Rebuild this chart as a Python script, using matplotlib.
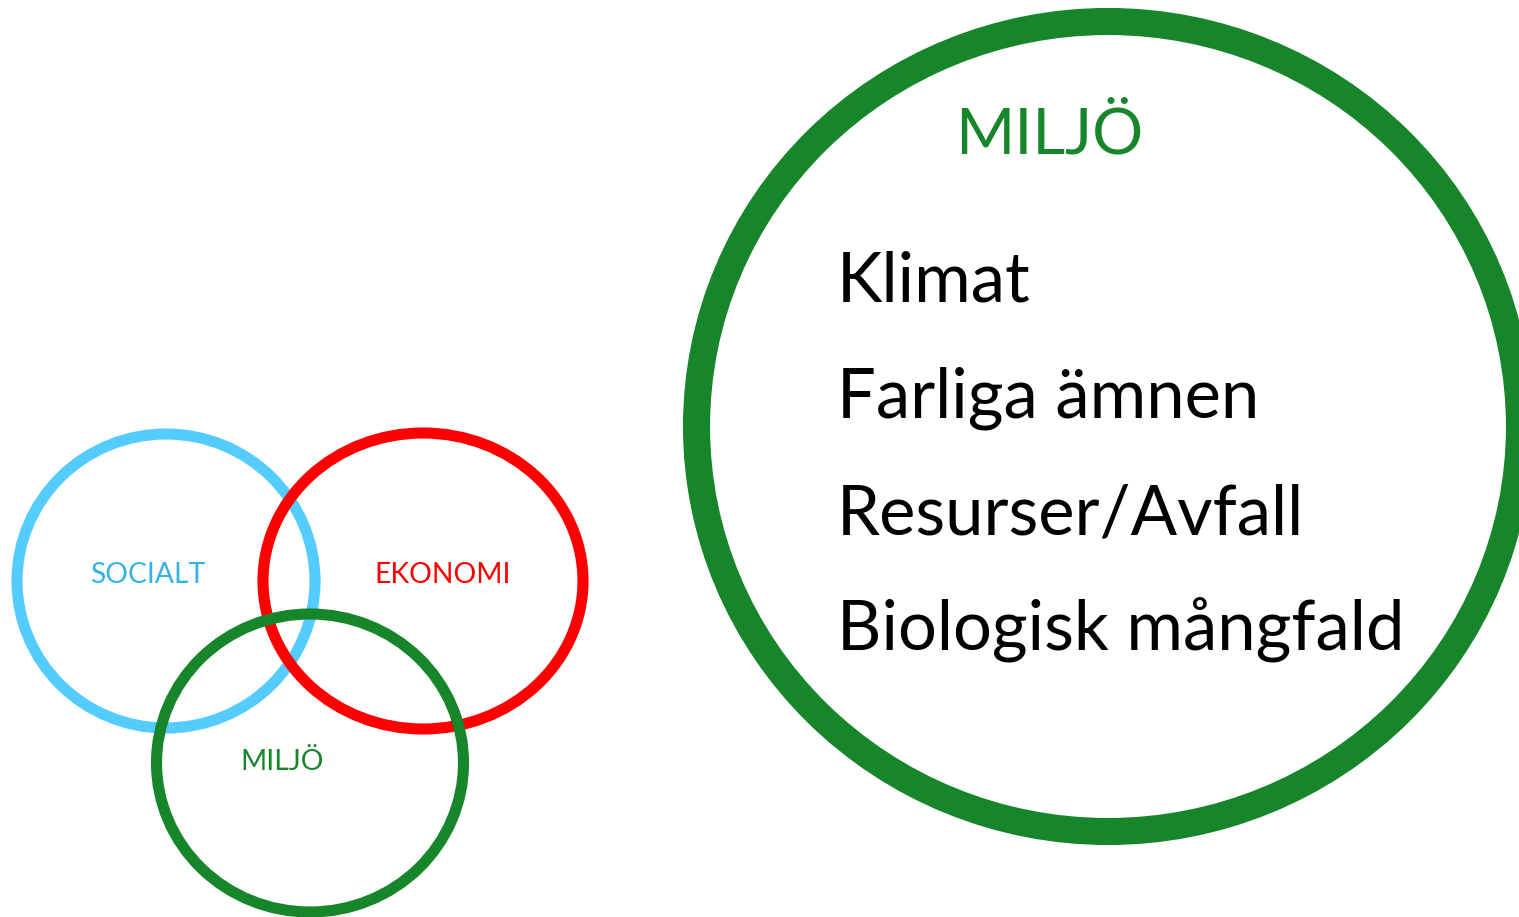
import matplotlib
matplotlib.use("Agg")
import matplotlib.pyplot as plt
from matplotlib.patches import Ellipse

# small venn circles: label, center x, center y, width, height, ring colour, text colour
venn_labels = ["SOCIALT", "EKONOMI", "MILJÖ"]
venn_cx = [166, 423, 310]
venn_cy = [581, 581, 763]
venn_w = [298, 320, 307]
venn_h = [294, 296, 298]
venn_ring = ["#55CCFF", "#FF0000", "#17862B"]
venn_text = ["#33B3E6", "#FF0000", "#17862B"]
venn_text_x = [148, 443, 282]
venn_text_y = [583, 583, 770]

# big circle
big_title = "MILJÖ"
big_items = ["Klimat", "Farliga ämnen", "Resurser/Avfall", "Biologisk mångfald"]
big_item_y = [301, 418, 534, 650]

W, H = 1519, 917
fig = plt.figure(figsize=(W / 100, H / 100), dpi=100)
ax = fig.add_axes([0, 0, 1, 1])
ax.set_xlim(0, W)
ax.set_ylim(H, 0)
ax.axis("off")

font = "Lato"

for lab, cx, cy, w, h, rc, tc, tx, ty in zip(venn_labels, venn_cx, venn_cy, venn_w, venn_h,
                                              venn_ring, venn_text, venn_text_x, venn_text_y):
    ax.add_patch(Ellipse((cx, cy), w, h, fill=False, edgecolor=rc, linewidth=8))
    ax.text(tx, ty, lab, color=tc, fontsize=20.3, family=font, ha="center", va="baseline")

ax.add_patch(Ellipse((1108, 426.5), 823, 810, fill=False, edgecolor="#17862B", linewidth=19.5))
ax.text(1049, 153, big_title, color="#17862B", fontsize=46, family=font, ha="center", va="baseline")
for item, y in zip(big_items, big_item_y):
    ax.text(837, y, item, color="black", fontsize=49.5, family=font, ha="left", va="baseline")

fig.savefig("out.png", dpi=100, facecolor="white")
